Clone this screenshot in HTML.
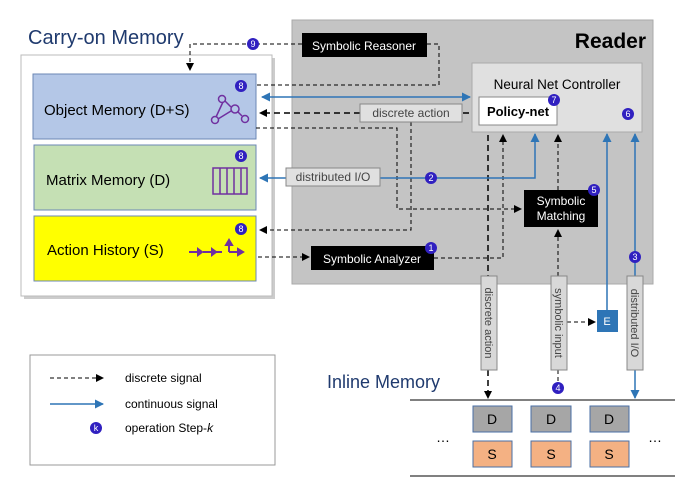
<!DOCTYPE html>
<html><head><style>body{margin:0;background:#fff}svg{display:block}text{font-family:"Liberation Sans",sans-serif}</style></head><body>
<svg width="700" height="496" viewBox="0 0 700 496" xmlns="http://www.w3.org/2000/svg">
<defs>
<marker id="ak" markerWidth="8" markerHeight="8" refX="7" refY="4" orient="auto" markerUnits="userSpaceOnUse"><path d="M0,0L8,4L0,8z" fill="#000"/></marker>
<marker id="ab" markerWidth="9" markerHeight="9" refX="8" refY="4.5" orient="auto" markerUnits="userSpaceOnUse"><path d="M0,0L9,4.5L0,9z" fill="#2e75b6"/></marker>
<marker id="abs" markerWidth="9" markerHeight="9" refX="1" refY="4.5" orient="auto" markerUnits="userSpaceOnUse"><path d="M9,0L0,4.5L9,9z" fill="#2e75b6"/></marker>
</defs>
<rect x="292" y="20" width="361" height="264" fill="#c4c4c4" stroke="#aaa"/>
<text x="646" y="48" font-size="21" font-weight="bold" text-anchor="end">Reader</text>
<text x="28" y="44" font-size="20" fill="#1f3a6e">Carry-on Memory</text>
<rect x="24" y="58" width="251" height="241" fill="#999" opacity="0.5"/>
<rect x="21" y="55" width="251" height="241" fill="#fff" stroke="#bbb"/>
<rect x="33" y="74" width="223" height="65" fill="#b4c7e7" stroke="#6b87b5"/>
<rect x="34" y="145" width="222" height="65" fill="#c5e0b4" stroke="#6b87b5"/>
<rect x="34" y="216" width="222" height="65" fill="#ffff00" stroke="#6b87b5"/>
<text x="44" y="115" font-size="15">Object Memory (D+S)</text>
<text x="46" y="185" font-size="15">Matrix Memory (D)</text>
<text x="47" y="255" font-size="15">Action History (S)</text>
<g stroke="#7030a0" stroke-width="1.5" fill="none"><circle cx="222" cy="99" r="3.5"/><circle cx="235" cy="109" r="4"/><circle cx="215" cy="120" r="3.5"/><circle cx="245" cy="119" r="3.5"/><path d="M223,102L216,117M225,101L231,107M218,119L231,111M238,112L242,116"/></g>
<g stroke="#7030a0" stroke-width="1.5" fill="none"><rect x="213" y="168" width="34" height="26"/><path d="M220,168V194M227,168V194M234,168V194M241,168V194"/></g>
<g stroke="#7030a0" stroke-width="2" fill="#7030a0"><path d="M189,252H198M203,252H212M216,252H222M229,252H238" fill="none"/><path d="M198,249L202,252L198,255z M212,249L216,252L212,255z M238,249L243,252L238,255z M229,252V243" /><path d="M226,245L229,240L232,245z"/></g>
<g fill="none" stroke="#000" stroke-width="1" stroke-dasharray="4,3">
<path d="M302,44H190V70" marker-end="url(#ak)"/>
<path d="M427,44H439V85H256"/>
<path d="M256,128H397V209H521" marker-end="url(#ak)"/>
<path d="M411,122V230H260" marker-end="url(#ak)"/>
<path d="M258,257H309" marker-end="url(#ak)"/>
<path d="M434,258H503V135" marker-end="url(#ak)"/>
<path d="M558,190V135" marker-end="url(#ak)"/>
<path d="M558,276V230" marker-end="url(#ak)"/>
<path d="M558,370V382"/>
<path d="M567,322H595" marker-end="url(#ak)"/>
</g>
<g fill="none" stroke="#000" stroke-width="1.5" stroke-dasharray="6,4">
<path d="M479,113H462M360,113H260" marker-end="url(#ak)"/>
<path d="M488,125V276M488,370V398" marker-end="url(#ak)"/>
</g>
<g fill="none" stroke="#2e75b6" stroke-width="1.5">
<path d="M262,97H470" marker-start="url(#abs)" marker-end="url(#ab)"/>
<path d="M380,178H535V134" marker-end="url(#ab)"/>
<path d="M286,178H260" marker-end="url(#ab)"/>
<path d="M607,310V134" marker-end="url(#ab)"/>
<path d="M635,276V134" marker-end="url(#ab)"/>
<path d="M635,370V398" marker-end="url(#ab)"/>
</g>
<rect x="302" y="33" width="125" height="24" fill="#000"/>
<text x="364" y="50" font-size="12" fill="#fff" text-anchor="middle">Symbolic Reasoner</text>
<rect x="472" y="63" width="170" height="69" fill="#e0e0e0" stroke="#aaa"/>
<text x="557" y="89" font-size="13.5" text-anchor="middle">Neural Net Controller</text>
<rect x="479" y="97" width="78" height="28" fill="#fff" stroke="#888"/>
<text x="518" y="116" font-size="13" font-weight="bold" text-anchor="middle">Policy-net</text>
<rect x="360" y="104" width="102" height="18" fill="#e0e0e0" stroke="#888"/>
<text x="411" y="117" font-size="12" fill="#444" text-anchor="middle">discrete action</text>
<rect x="286" y="168" width="94" height="18" fill="#e0e0e0" stroke="#888"/>
<text x="333" y="181" font-size="12" fill="#444" text-anchor="middle">distributed I/O</text>
<rect x="524" y="190" width="74" height="37" fill="#000"/>
<text x="561" y="205" font-size="12" fill="#fff" text-anchor="middle">Symbolic</text>
<text x="561" y="220" font-size="12" fill="#fff" text-anchor="middle">Matching</text>
<rect x="311" y="246" width="123" height="24" fill="#000"/>
<text x="372" y="263" font-size="12" fill="#fff" text-anchor="middle">Symbolic Analyzer</text>
<rect x="481" y="276" width="16" height="94" fill="#d8d8d8" stroke="#888"/>
<text transform="translate(485,323) rotate(90)" font-size="11" fill="#444" text-anchor="middle">discrete action</text>
<rect x="551" y="276" width="16" height="94" fill="#d8d8d8" stroke="#888"/>
<text transform="translate(555,323) rotate(90)" font-size="11" fill="#444" text-anchor="middle">symbolic input</text>
<rect x="627" y="276" width="16" height="94" fill="#d8d8d8" stroke="#888"/>
<text transform="translate(631,323) rotate(90)" font-size="11" fill="#444" text-anchor="middle">distributed I/O</text>
<rect x="597" y="310" width="21" height="22" fill="#2e75b6"/>
<text x="607" y="325" font-size="11" fill="#fff" text-anchor="middle">E</text>
<text x="327" y="388" font-size="18" fill="#1f3a6e">Inline Memory</text>
<path d="M410,400H675M410,476H675" stroke="#000" stroke-width="1"/>
<g stroke="#4a6fa5" stroke-width="1">
<rect x="473" y="406" width="39" height="26" fill="#a6a6a6"/><rect x="531" y="406" width="40" height="26" fill="#a6a6a6"/><rect x="590" y="406" width="39" height="26" fill="#a6a6a6"/>
<rect x="473" y="441" width="39" height="26" fill="#f4b183"/><rect x="531" y="441" width="40" height="26" fill="#f4b183"/><rect x="590" y="441" width="39" height="26" fill="#f4b183"/>
</g>
<g font-size="14" text-anchor="middle"><text x="492" y="424">D</text><text x="551" y="424">D</text><text x="609" y="424">D</text><text x="492" y="459">S</text><text x="551" y="459">S</text><text x="609" y="459">S</text></g>
<text x="443" y="442" font-size="14" text-anchor="middle">…</text>
<text x="655" y="442" font-size="14" text-anchor="middle">…</text>
<rect x="30" y="355" width="245" height="110" fill="#fff" stroke="#999"/>
<path d="M50,378H103" stroke="#000" stroke-dasharray="4,3" marker-end="url(#ak)"/>
<path d="M50,404H103" stroke="#2e75b6" stroke-width="1.5" marker-end="url(#ab)"/>
<circle cx="96" cy="428" r="6" fill="#3020c0"/><text x="96" y="431" font-size="9" fill="#fff" text-anchor="middle">k</text>
<g font-size="12"><text x="125" y="382">discrete signal</text><text x="125" y="408">continuous signal</text><text x="125" y="432">operation Step-<tspan font-style="italic">k</tspan></text></g>
<g fill="#3020c0"><circle cx="241" cy="86" r="6"/><circle cx="241" cy="156" r="6"/><circle cx="241" cy="229" r="6"/><circle cx="253" cy="44" r="6"/><circle cx="554" cy="100" r="6"/><circle cx="628" cy="114" r="6"/><circle cx="431" cy="178" r="6"/><circle cx="594" cy="190" r="6"/><circle cx="431" cy="248" r="6"/><circle cx="558" cy="388" r="6"/><circle cx="635" cy="257" r="6"/></g>
<g fill="#fff" font-size="9" text-anchor="middle"><text x="241" y="89">8</text><text x="241" y="159">8</text><text x="241" y="232">8</text><text x="253" y="47">9</text><text x="554" y="103">7</text><text x="628" y="117">6</text><text x="431" y="181">2</text><text x="594" y="193">5</text><text x="431" y="251">1</text><text x="558" y="391">4</text><text x="635" y="260">3</text></g>
</svg>
</body></html>
